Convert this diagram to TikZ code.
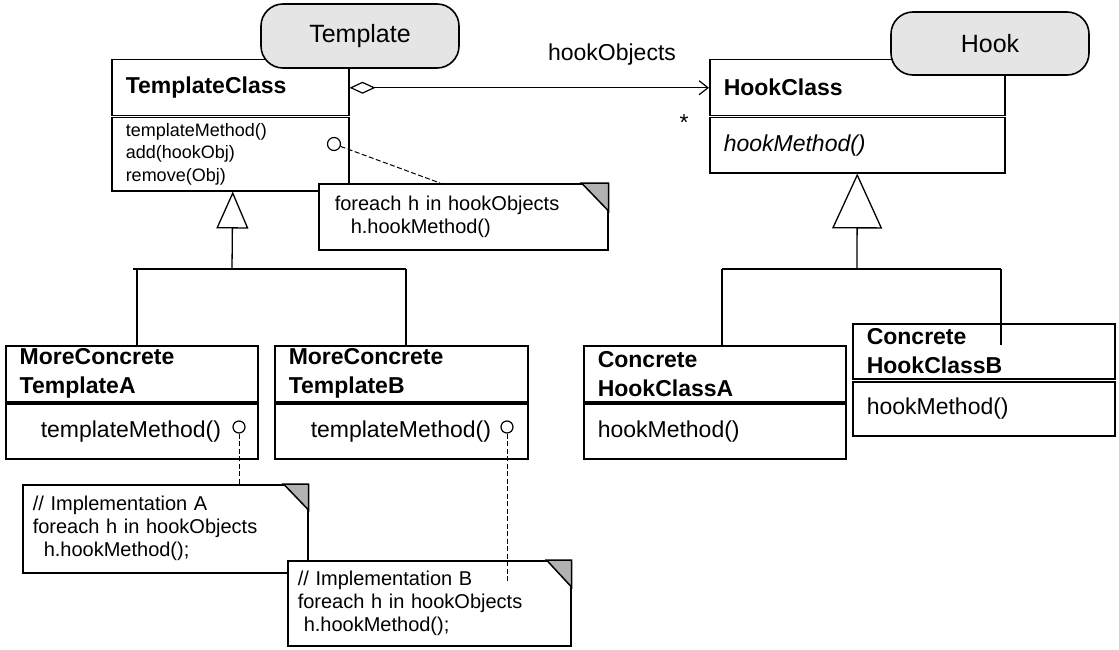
\documentclass[tikz,border=0pt]{standalone}
\usepackage{fontspec}
\setmainfont{Liberation Sans}
\usetikzlibrary{arrows.meta,calc}
\newcommand\clsfont{\fontsize{23}{29}\selectfont\bfseries}
\newcommand\mthfont{\fontsize{23}{28}\selectfont}
\newcommand\smallmth{\fontsize{18}{22.5}\selectfont}
\newcommand\notefont{\fontsize{20}{23}\selectfont}
\newcommand\tagfont{\fontsize{25}{30}\selectfont}
\tikzset{
  box/.style={draw, line width=1.5pt, fill=white, anchor=north west, align=left, inner xsep=14pt, inner ysep=0pt},
  tagbox/.style={draw, line width=1.6pt, fill=black!10, rounded corners=22pt, font=\tagfont},
  notebox/.style={draw, line width=1.5pt, fill=white, anchor=north west, align=left, inner ysep=0pt, font=\notefont},
  fold/.style={fill=black!30, draw, line width=1.5pt},
  circ/.style={circle, draw, fill=white, line width=1.2pt, inner sep=0pt, minimum size=12pt},
  dashline/.style={line width=1pt, dash pattern=on 5pt off 2.5pt},
  treeline/.style={line width=1.3pt},
}
\begin{document}
\begin{tikzpicture}[x=1pt, y=-1pt]
\useasboundingbox (0,0) rectangle (1119,650);

% ---- TemplateClass ----
\node[box, minimum width=237pt, text width=209pt, minimum height=56pt, font=\clsfont] (tch) at (111,59) {TemplateClass};
\node[box, minimum width=237pt, text width=209pt, minimum height=73pt, font=\smallmth] (tcm) at (111,117) {templateMethod()\\add(hookObj)\\remove(Obj)};
\node[tagbox, minimum width=198pt, minimum height=64pt] (tpl) at (360,36) {Template};
\node[circ, minimum size=13pt] (c1) at (334,144) {};

% ---- HookClass ----
\node[box, minimum width=295pt, text width=267pt, minimum height=56pt, font=\clsfont] (hch) at (709,59) {HookClass};
\node[box, minimum width=295pt, text width=267pt, minimum height=55pt, font=\mthfont\itshape] (hcm) at (709,117) {hookMethod()};
\node[tagbox, minimum width=198pt, minimum height=63pt] (hk) at (990,43.5) {Hook};

% ---- association ----
\draw[line width=1pt, {Diamond[open, length=26pt, width=12pt, line width=1.2pt]}-{Straight Barb[length=9pt, width=14pt, line width=1.2pt]}] (tch.east) -- (hch.west);
\node[font=\mthfont, inner sep=0pt] (lbl) at (612,55) {hookObjects};
\node[font=\mthfont, inner sep=0pt] (star) at (684,123) {*};

% ---- note 1 ----
\node[notebox, minimum width=289pt, text width=257pt, inner xsep=16pt, minimum height=66pt] (n1) at (318,183) {foreach h in hookObjects\\\hspace*{16pt}h.hookMethod()};
\draw[fold] ([xshift=-27pt]n1.north east) -- (n1.north east) -- ([yshift=-28pt]n1.north east) -- cycle;
\draw[dashline] (c1) -- ([xshift=122pt]n1.north west);

% ---- template subclasses ----
\node[box, minimum width=252pt, text width=224pt, minimum height=56pt, font=\clsfont] (mcah) at (5,345) {MoreConcrete\\TemplateA};
\node[box, minimum width=252pt, text width=224pt, minimum height=55pt, font=\mthfont] (mcam) at (5,403) {\hspace*{21pt}templateMethod()};
\node[box, minimum width=253pt, text width=225pt, minimum height=56pt, font=\clsfont] (mcbh) at (274,345) {MoreConcrete\\TemplateB};
\node[box, minimum width=253pt, text width=225pt, minimum height=55pt, font=\mthfont] (mcbm) at (274,403) {\hspace*{22pt}templateMethod()};
\node[circ] (ca) at (239,427) {};
\node[circ] (cb) at (507,427) {};

% ---- inheritance template ----
\coordinate (jt) at (232,269);
\coordinate (tl) at (133,269);
\coordinate (tl2) at (137,269);
\coordinate (tr) at (406,269);
\draw[treeline, -{Triangle[open, length=37pt, width=32pt, line width=1.3pt]}] (jt) -- ([xshift=2.5pt]tcm.south);
\draw[treeline] (tl) -- (tr);
\draw[treeline] (tl2) -- (tl2 |- mcah.north);
\draw[treeline] (tr) -- (tr |- mcbh.north);

% ---- notes A and B ----
\node[notebox, minimum width=285pt, text width=265pt, inner xsep=10pt, minimum height=88pt] (na) at (22,484) {// Implementation A\\foreach h in hookObjects\\\hspace*{11pt}h.hookMethod();};
\draw[fold] ([xshift=-25pt]na.north east) -- (na.north east) -- ([yshift=-26pt]na.north east) -- cycle;
\draw[dashline] (ca) -- (ca |- na.north);
\node[notebox, minimum width=283pt, text width=263pt, inner xsep=10pt, minimum height=85pt] (nb) at (287,560) {// Implementation B\\foreach h in hookObjects\\\hspace*{6pt}h.hookMethod();};
\draw[fold] ([xshift=-25pt]nb.north east) -- (nb.north east) -- ([yshift=-27pt]nb.north east) -- cycle;
\draw[dashline] (cb) -- ($(cb |- nb.north)+(0,22)$);

% ---- hook subclasses ----
\node[box, minimum width=262pt, text width=234pt, minimum height=56pt, font=\clsfont] (hah) at (583,345) {Concrete\\HookClassA};
\node[box, minimum width=262pt, text width=234pt, minimum height=55pt, font=\mthfont] (ham) at (583,403) {hookMethod()};
\node[box, minimum width=262pt, text width=234pt, minimum height=55pt, font=\clsfont] (hbh) at (852,323) {Concrete\\HookClassB};
\node[box, minimum width=262pt, text width=234pt, minimum height=54pt, font=\mthfont] (hbm) at (852,381) {hookMethod()};

% ---- inheritance hook ----
\coordinate (jh) at (857,269);
\coordinate (hl) at (722,269);
\coordinate (hr) at (1001,269);
\draw[treeline, -{Triangle[open, length=55pt, width=50pt, line width=1.3pt]}] (jh) -- (hcm.south);
\draw[treeline] (hl) -- (hr);
\draw[treeline] (hl) -- (hl |- hah.north);
\draw[treeline] (hr) -- (hr |- hah.north);
\end{tikzpicture}
\end{document}
